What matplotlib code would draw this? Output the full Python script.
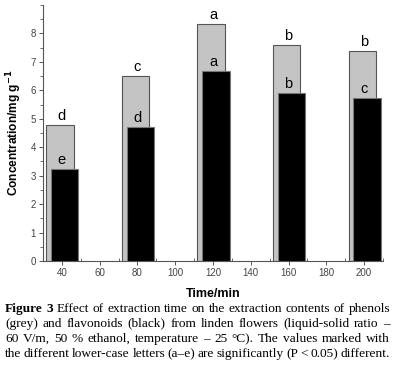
import math
import matplotlib.pyplot as plt
import numpy as np
from matplotlib.ticker import MultipleLocator
from matplotlib.backends.backend_agg import get_hinting_flag

# data
times = [40, 80, 120, 160, 200]
phenols = [4.78, 6.49, 8.32, 7.58, 7.37]      # grey
flavonoids = [3.22, 4.70, 6.67, 5.89, 5.72]   # black
phenol_letters = ['d', 'c', 'a', 'b', 'b']
flav_letters = ['e', 'd', 'a', 'b', 'c']

caption = [
    "Effect of extraction time on the extraction contents of phenols",
    "(grey) and flavonoids (black) from linden flowers (liquid-solid ratio \u2013",
    "60 V/m, 50 % ethanol, temperature \u2013 25 \u00b0C). The values marked with",
    "the different lower-case letters (a\u2013e) are significantly (P < 0.05) different.",
]

plt.rcParams['font.family'] = ['Liberation Sans', 'DejaVu Sans']
fig = plt.figure(figsize=(3.94, 3.67), dpi=100)
ax = fig.add_axes([43/394, 1-261/367, 340/394, 256/367])

x = np.array(times)
ax.bar(x - 1, phenols, width=14.5, color='#c4c4c4', edgecolor='#555555', linewidth=0.8, zorder=2)
ax.bar(x + 1.5, flavonoids, width=14.5, color='black', edgecolor='#777777', linewidth=0.8, zorder=3)

for xi, p, f, lp, lf in zip(times, phenols, flavonoids, phenol_letters, flav_letters):
    ax.text(xi, p + 0.08, lp, ha='center', va='bottom', fontsize=10.5, zorder=4)
    ax.text(xi, f + 0.08, lf, ha='center', va='bottom', fontsize=10.5, zorder=4)

ax.set_xlim(30, 210)
ax.set_ylim(0, 9)
ax.set_xticks([40, 60, 80, 100, 120, 140, 160, 180, 200])
ax.set_yticks(range(0, 9))
ax.xaxis.set_minor_locator(MultipleLocator(10))
ax.yaxis.set_minor_locator(MultipleLocator(0.5))
for s in ['top', 'right']:
    ax.spines[s].set_visible(False)
for s in ['left', 'bottom']:
    ax.spines[s].set_color('#555555')
    ax.spines[s].set_linewidth(0.8)
ax.tick_params(which='major', length=3, width=0.7, color='#555555', labelsize=7, labelcolor='#444444', pad=2)
ax.tick_params(which='minor', length=2, width=0.6, color='#555555')
ax.tick_params(axis='x', which='minor', direction='in')

ax.set_xlabel('Time/min', fontsize=9, fontweight='bold', labelpad=7)
ax.set_ylabel('Concentration/mg g$^{\\mathbf{-1}}$', fontsize=8.6, fontweight='bold', labelpad=5)

# caption, justified word by word between two pixel positions
renderer = fig.canvas.get_renderer()
cap_fs = 9.6
cap_base = [312, 327, 342, 357]
H = 367


def baseline_shift(word, prop, yb):
    # agg rounds each word's bitmap on its own, so words can land a pixel off
    try:
        font = renderer._prepare_font(prop)
        font.set_text(word, 0, flags=get_hinting_flag())
        w, h = font.get_width_height()
        d = font.get_descent()
        yo = font.get_bitmap_offset()[1]
        a = (h - d) / 64.0
        dd = d / 64.0
        out = round(yb + yo / 64.0 + dd) - math.floor((h) / 64.0) + math.floor(a)
        return out - yb
    except Exception:
        return 0


def justify(words, x0, x1, yy, bold_first=False):
    items = []
    for i, w in enumerate(words):
        t = fig.text(0, 1 - yy/H, w, fontsize=cap_fs, family='Liberation Serif',
                     fontweight='bold' if (bold_first and i < 2) else 'normal',
                     va='baseline', ha='left')
        items.append(t)
    widths = [t.get_window_extent(renderer).width for t in items]
    gap = (x1 - x0 - sum(widths)) / max(len(words) - 1, 1)
    pos = x0
    for t, w, word in zip(items, widths, words):
        t.set_x(pos / 394)
        yb = H - fig.transFigure.transform((0, 1 - yy/H))[1]
        off = baseline_shift(word, t.get_fontproperties(), yb)
        t.set_y(1 - (yy - off) / H)
        pos += w + gap


justify(["Figure", "3"] + caption[0].split(), 5, 390, cap_base[0], bold_first=True)
justify(caption[1].split(), 5, 390, cap_base[1])
justify(caption[2].split(), 5, 390, cap_base[2])
justify(caption[3].split(), 5, 390, cap_base[3])

fig.savefig('out.png', dpi=100)
